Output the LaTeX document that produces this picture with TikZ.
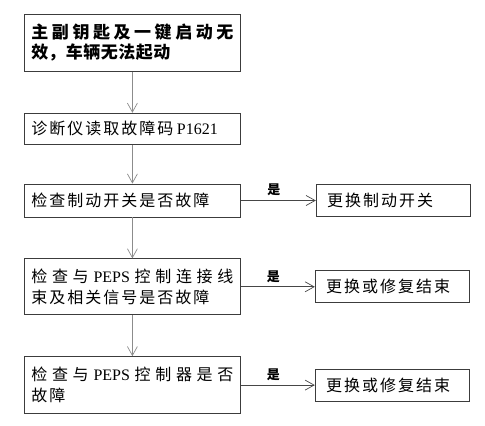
\documentclass[tikz,border=0pt]{standalone}
\usepackage{fontspec}
\usepackage{xcolor}
\usepackage{tikz}
\usetikzlibrary{arrows.meta, positioning}
\setmainfont{Liberation Serif}
\newfontfamily\cjk{Noto Sans CJK SC}
\XeTeXlinebreaklocale "zh"
\XeTeXlinebreakskip=2pt plus 4pt\relax
\newcommand{\lat}[1]{{\rmfamily #1}}
\newcommand{\keyfont}{\cjk\bfseries\fontsize{17}{20}\selectfont\XeTeXlinebreakskip=0.5pt plus 4pt\relax}
\definecolor{boxgray}{RGB}{60,60,60}
\definecolor{linegray}{RGB}{140,140,140}
\definecolor{arrowgray}{RGB}{70,70,70}

\begin{document}
\begin{tikzpicture}[
    >={Straight Barb[length=9pt, width=10pt, line width=0.7pt]},
    stepbox/.style={draw=boxgray, line width=0.8pt, text width=202pt, inner xsep=7pt,
        inner ysep=3pt, align=justify, font=\cjk\fontsize{16}{21}\selectfont},
    endbox/.style={draw=boxgray, line width=0.8pt, text width=132pt, inner xsep=11pt,
        inner ysep=3pt, minimum height=32pt, align=left, font=\cjk\fontsize{16}{21}\selectfont},
    vline/.style={draw=linegray, line width=0.7pt},
    hline/.style={draw=arrowgray, line width=0.8pt},
    yes/.style={above=3pt, pos=0.44, inner sep=1pt, font=\cjk\bfseries\fontsize{13}{13}\selectfont},
]
    \useasboundingbox (0,0) rectangle (485pt,-426pt);
    \node[stepbox, anchor=north west, minimum height=57pt, font=\keyfont]
        (key) at (24pt,-14pt) {主副钥匙及一键启动无\linebreak 效，车辆无法起动};
    \node[stepbox, below=41pt of key, minimum height=31pt] (code) {诊断仪读取故障码 \lat{P1621}};
    \node[stepbox, below=39pt of code, minimum height=33pt] (brake) {检查制动开关是否故障};
    \node[stepbox, below=41pt of brake, minimum height=56pt] (wire)
        {检查与 \lat{PEPS} 控制连接线\linebreak 束及相关信号是否故障};
    \node[stepbox, below=41pt of wire, minimum height=57pt] (ctrl)
        {检查与 \lat{PEPS} 控制器是否\linebreak 故障};

    \node[endbox, right=75pt of brake] (swap) {更换制动开关};
    \node[endbox, right=74pt of wire] (fix1) {更换或修复结束};
    \node[endbox, right=74pt of ctrl] (fix2) {更换或修复结束};

    % main line
    \draw[vline, ->] (key) -- (code);
    \draw[vline, ->] (code) -- (brake);
    \draw[vline, ->] (brake) -- (wire);
    \draw[vline, ->] (wire) -- (ctrl);

    % yes branches
    \draw[hline, ->] (brake) -- node[yes] {是} (swap);
    \draw[hline, ->] (wire) -- node[yes] {是} (fix1);
    \draw[hline, ->] (ctrl) -- node[yes] {是} (fix2);
\end{tikzpicture}
\end{document}
